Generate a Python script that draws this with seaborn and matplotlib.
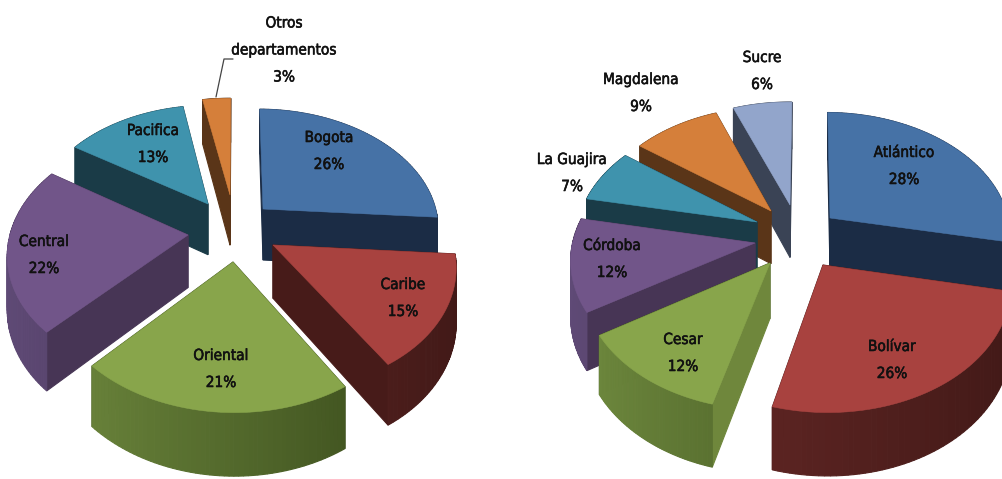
import numpy as np
import matplotlib.pyplot as plt
import matplotlib.patheffects as pe
import seaborn as sns

# data
left_names = ["Bogota", "Caribe", "Oriental", "Central", "Pacifica", "Otros\ndepartamentos"]
left_values = [26, 15, 21, 22, 13, 3]
right_names = ["Atlántico", "Bolívar", "Cesar", "Córdoba", "La Guajira", "Magdalena", "Sucre"]
right_values = [28, 26, 12, 12, 7, 9, 6]

# style: top colours, cut face colours, rim colours (light end, dark end)
blue = ("#4672A6", "#1B2C45", "#2A4468", "#1B2C45")
red = ("#A8423F", "#471B19", "#6B2A28", "#411917")
green = ("#88A54B", "#384A1B", "#708B3F", "#364719")
purple = ("#715589", "#473555", "#5F4A76", "#3E2D4C")
teal = ("#3F93AD", "#1A3B47", "#2A6070", "#1A3B47")
orange = ("#D57F3A", "#5A3518", "#7A4A20", "#5A3518")
pale = ("#92A5CB", "#3A4355", "#55617A", "#3A4355")

left_style = dict(
    cx=225, cy=225, rx=176, ry=118, k=0.14, depth=52, start=89.5,
    apex=[(263, 209), (273, 245), (233, 262), (188, 235), (208, 204), (230, 195)],
    colors=[blue, red, green, purple, teal, orange],
    order=[0, 5, 4, 3, 1, 2],
    labels=[(329, 151), (403, 298), (221, 369), (44, 255), (153, 144), (284, 50)],
)
right_style = dict(
    cx=790, cy=235, rx=181, ry=122, k=0.12, depth=54, start=89.3,
    apex=[(830, 218), (823, 265), (770, 263), (755, 243), (757, 222), (771, 211), (790, 205)],
    colors=[blue, red, green, purple, teal, orange, pale],
    order=[0, 6, 5, 4, 3, 2, 1],
    labels=[(904, 166), (892, 360), (683, 353), (612, 259), (572, 173), (641, 93), (762, 71)],
)
cesar_cut = "#6F873C"


def project(s, x, y):
    w = 1 / (1 + s["k"] * y)
    return s["cx"] + s["rx"] * x * w, s["cy"] - s["ry"] * y * w, s["depth"] * w


def unproject(s, sx, sy):
    v = (s["cy"] - sy) / s["ry"]
    y = v / (1 - s["k"] * v)
    w = 1 / (1 + s["k"] * y)
    return (sx - s["cx"]) / (s["rx"] * w), y


def mix(c1, c2, f):
    return tuple(np.array(sns.desaturate(c1, 1)) * (1 - f) + np.array(sns.desaturate(c2, 1)) * f)


def quad(ax, p, q, color):
    (x1, y1, d1), (x2, y2, d2) = p, q
    ax.fill([x1, x2, x2, x1], [y1, y2, y2 + d2, y1 + d1], color=color, lw=0.8, zorder=ax.z)
    ax.z += 0.01


def draw_pie(ax, names, values, s, first_cut=None):
    cuts = s["start"] - np.cumsum([0] + list(values)) * 3.6
    for i in s["order"]:
        top, cut, rim_a, rim_b = s["colors"][i]
        ox, oy = unproject(s, *s["apex"][i])
        t = np.radians(np.linspace(cuts[i], cuts[i + 1], 60))
        rim = [project(s, ox + np.cos(a), oy + np.sin(a)) for a in t]
        tip = project(s, ox, oy)
        edge_color = first_cut[i] if first_cut and i in first_cut else cut

        # faces turned away from the viewer go first so they stay hidden
        first_back = np.sin(t[0] + np.pi / 2) > 0
        last_back = np.sin(t[-1] - np.pi / 2) > 0
        if first_back:
            quad(ax, tip, rim[0], edge_color)
        if last_back:
            quad(ax, tip, rim[-1], cut)
        for j in range(len(rim) - 1):
            if np.sin(t[j]) > 0:
                quad(ax, rim[j], rim[j + 1], rim_b)
        if not first_back:
            quad(ax, tip, rim[0], edge_color)
        if not last_back:
            quad(ax, tip, rim[-1], cut)
        for j in range(len(rim) - 1):
            if np.sin(t[j]) <= 0:
                f = (1 + np.cos(t[j])) / 2
                quad(ax, rim[j], rim[j + 1], mix(rim_a, rim_b, f))

        xs = [tip[0]] + [r[0] for r in rim]
        ys = [tip[1]] + [r[1] for r in rim]
        ax.fill(xs, ys, color=top, lw=0.4, zorder=ax.z)
        ax.z += 0.01
    for name, v, (lx, ly) in zip(names, values, s["labels"]):
        ax.text(lx, ly, f"{name}\n{v}%", ha="center", va="center", color="#111111",
                fontsize=11, family="DejaVu Sans", stretch="condensed",
                linespacing=2.0, zorder=50,
                path_effects=[pe.withStroke(linewidth=0.4, foreground="#111111")])


sns.set_theme(style="white")

fig, ax = plt.subplots(figsize=(10.03, 4.79), dpi=100)
fig.subplots_adjust(0, 0, 1, 1)
ax.set_xlim(0, 1003)
ax.set_ylim(479, 0)
ax.axis("off")
ax.z = 1

draw_pie(ax, left_names, left_values, left_style)
draw_pie(ax, right_names, right_values, right_style, first_cut={2: cesar_cut})

# leader line for the smallest slice
ax.plot([216, 224, 233], [97, 59, 59], color="#444444", lw=0.9, zorder=40)

fig.savefig("out.png", dpi=100)
